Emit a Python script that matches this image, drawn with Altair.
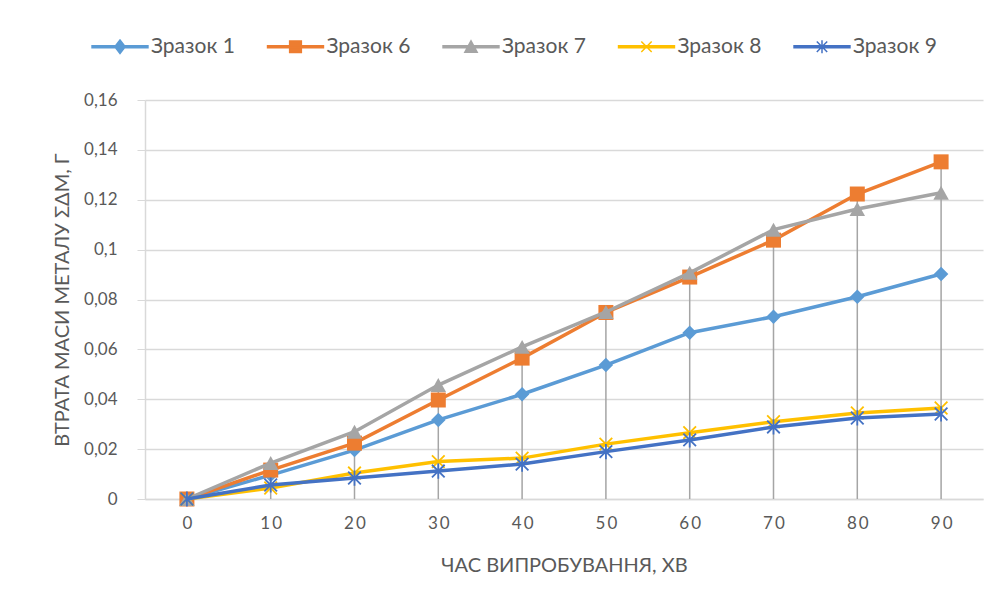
import altair as alt
import pandas as pd

times = [0, 10, 20, 30, 40, 50, 60, 70, 80, 90]
series_names = ["Зразок 1", "Зразок 6", "Зразок 7", "Зразок 8", "Зразок 9"]
s1 = [0, 0.0096, 0.0196, 0.0317, 0.042, 0.0537, 0.0667, 0.0731, 0.0811, 0.0902]
s6 = [0, 0.0116, 0.0224, 0.0397, 0.0565, 0.0748, 0.089, 0.1038, 0.1223, 0.1352]
s7 = [0, 0.0144, 0.027, 0.0457, 0.061, 0.0750, 0.0907, 0.108, 0.1163, 0.1228]
s8 = [0, 0.0044, 0.0104, 0.015, 0.0164, 0.022, 0.0266, 0.031, 0.0345, 0.0365]
s9 = [0, 0.0056, 0.0084, 0.0112, 0.014, 0.019, 0.0237, 0.0289, 0.0325, 0.0341]
colors = ["#5B9BD5", "#ED7D31", "#A5A5A5", "#FFC000", "#4472C4"]
y_ticks = [0, 0.02, 0.04, 0.06, 0.08, 0.1, 0.12, 0.14, 0.16]

rows = []
for name, vals in zip(series_names, [s1, s6, s7, s8, s9]):
    for t, v in zip(times, vals):
        rows.append({"time": t, "series": name, "value": v})
df = pd.DataFrame(rows)

FONT = "Lato"
TXT = "#595959"
GRID = "#D9D9D9"

# marker paths (unit coordinates)
diamond = "M0,-1L1,0L0,1L-1,0Z"
square = "M-1,-1L1,-1L1,1L-1,1Z"
triangle = "M0,-0.9L1,0.9L-1,0.9Z"
xmark = "M-1,-1L1,1M-1,1L1,-1"
aster = "M-1,-1L1,1M-1,1L1,-1M0,-1.2L0,1.2"

markers = [
    (diamond, 210, True),
    (square, 225, True),
    (triangle, 240, True),
    (xmark, 160, False),
    (aster, 160, False),
]

L = 4.3
T = 0.15
bar = f"M{-L},{-T}L{L},{-T}L{L},{T}L{-L},{T}Z "
legend_paths = [
    bar + "M0,-1.05L0.8,0L0,1.05L-0.8,0Z",
    bar + "M-0.9,-0.9L0.9,-0.9L0.9,0.9L-0.9,0.9Z",
    bar + "M0,-0.9L0.95,0.85L-0.95,0.85Z",
    bar + "M-0.8,-0.8L0.8,0.8M-0.8,0.8L0.8,-0.8",
    bar + "M-0.8,-0.8L0.8,0.8M-0.8,0.8L0.8,-0.8M0,-1L0,1",
]

x_enc = alt.X(
    "time:O",
    title="ЧАС ВИПРОБУВАННЯ, ХВ",
    scale=alt.Scale(type="point", padding=0.5),
    axis=alt.Axis(
        labelAngle=0,
        ticks=False,
        grid=False,
        domainColor=GRID,
        domainWidth=1.5,
        labelPadding=16,
        titlePadding=24,
        labelExpr="join(split(datum.label, ''), '\u2009')",
    ),
)
y_enc = alt.Y(
    "value:Q",
    title="ВТРАТА МАСИ МЕТАЛУ ΣΔМ, Г",
    scale=alt.Scale(domain=[0, 0.16], nice=False, zero=True),
    axis=alt.Axis(
        values=y_ticks,
        labelExpr="replace(format(datum.value, '.2~f'), '.', ',')",
        tickSize=8,
        tickColor=GRID,
        domainColor=GRID,
        domainWidth=1.5,
        gridColor=GRID,
        gridWidth=1.5,
        labelPadding=20,
        titlePadding=11,
    ),
)

base = alt.Chart(df)

drop = base.transform_aggregate(
    vmax="max(value)", groupby=["time"]
).mark_rule(color="#A5A5A5", strokeWidth=1.5).encode(
    x=x_enc, y=alt.Y("vmax:Q"), y2=alt.datum(0)
)

layers = [drop]
for name, col, (path, sz, filled) in zip(series_names, colors, markers):
    b = base.transform_filter(alt.datum.series == name)
    layers.append(
        b.mark_line(color=col, strokeWidth=3.5).encode(x=x_enc, y=y_enc)
    )
    if filled:
        pm = b.mark_point(shape=path, size=sz, filled=True, fill=col,
                          strokeWidth=0, opacity=1)
    else:
        pm = b.mark_point(shape=path, size=sz, filled=False, stroke=col,
                          strokeWidth=1.8, opacity=1)
    layers.append(pm.encode(x=x_enc, y=y_enc))

leg = alt.Legend(
    title=None,
    orient="none",
    legendX=-35.5,
    legendY=-64,
    direction="horizontal",
    columns=5,
    symbolSize=169,
    symbolStrokeWidth=1.5,
    labelOffset=20.5,
    columnPadding=28.5,
    labelFontSize=21,
    labelColor=TXT,
    labelFont=FONT,
    padding=0,
    labelLimit=300,
)
legend_layer = base.transform_filter("false").mark_point(
    filled=True, opacity=1, strokeWidth=1.5
).encode(
    fill=alt.Fill("series:N", scale=alt.Scale(domain=series_names, range=colors), legend=leg),
    stroke=alt.Stroke("series:N", scale=alt.Scale(domain=series_names, range=colors), legend=leg),
    shape=alt.Shape("series:N", scale=alt.Scale(domain=series_names, range=legend_paths), legend=leg),
)
layers.append(legend_layer)

chart = alt.layer(*layers).properties(
    width=838,
    height=399,
    padding={"left": 137, "top": 92, "right": 10, "bottom": 90},
    autosize=alt.AutoSizeParams(type="none"),
    background="white",
).configure_view(stroke=None).configure_axis(
    labelFont=FONT,
    titleFont=FONT,
    labelColor=TXT,
    titleColor=TXT,
    labelFontSize=17,
    titleFontSize=20,
    titleFontWeight="normal",
)

chart.save("out.html", embed_options={"renderer": "svg", "actions": False})
